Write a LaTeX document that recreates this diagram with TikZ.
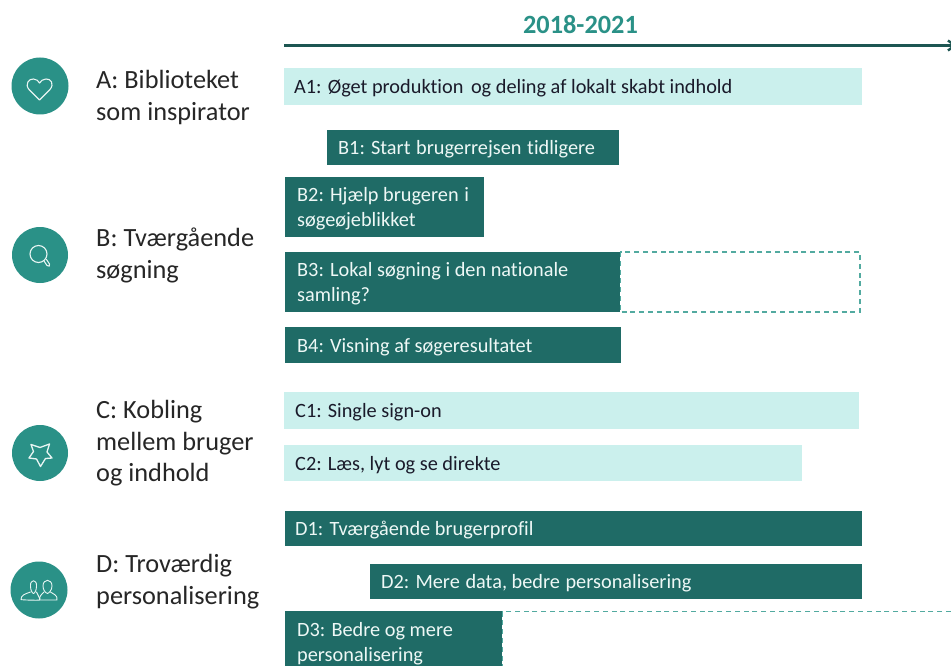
\documentclass[tikz,border=0pt]{standalone}
\usepackage{fontspec}
\setmainfont[Ligatures=NoCommon]{Carlito}
\usetikzlibrary{arrows.meta}
\definecolor{darkbar}{HTML}{1F6B66}
\definecolor{lightbar}{HTML}{CBF0ED}
\definecolor{teal}{HTML}{2A9187}
\definecolor{axisc}{HTML}{1D5652}
\definecolor{dashc}{HTML}{52AAA0}
\definecolor{inkc}{HTML}{1A1A2A}
\definecolor{paleink}{HTML}{EEF8F6}
\definecolor{iconc}{HTML}{E8F5F3}
\tikzset{
  x=1pt,y=-1pt,
  barbase/.style={anchor=north west,inner xsep=0pt,inner ysep=0pt,outer sep=0pt},
  darkstyle/.style={barbase,fill=darkbar},
  lightstyle/.style={barbase,fill=lightbar},
  dashbox/.style={draw=dashc,line width=1.2pt,dash pattern=on 5pt off 3.8pt},
  bartext/.style={anchor=west,inner sep=0pt,align=left,font=\fontsize{20.3}{25}\selectfont},
  rowlabel/.style={anchor=north west,align=left,inner sep=0pt,text=black!85,font=\fontsize{26.3}{31.6}\selectfont},
  disc/.style={circle,fill=teal,draw=none,inner sep=0pt},
  iconline/.style={draw=iconc,line width=1.1pt,line join=round,line cap=round},
}
\newcommand{\barbox}[9]{% name,style,textcolour,x1,y1,x2,y2,indent,text
  \path (#4,#5) node[#2,minimum width=#6pt-#4pt,minimum height=#7pt-#5pt] (#1) {};
  \node[bartext,text=#3] (#1t) at ([xshift=#8pt,yshift=-1.7pt]#1.west) {#9};
}
\newcommand{\wsp}{\ \hspace{1pt}}
\begin{document}
\begin{tikzpicture}
\clip (0,0) rectangle (951,666);
\fill[white] (0,0) rectangle (951,666);

% axis
\node[text=teal,font=\fontsize{26.3}{30}\selectfont\bfseries,inner sep=0pt] (title) at (580.5,25) {2018-2021};
\coordinate (axisS) at (284,45.5);
\coordinate (axisE) at (957,45.5);
\draw[axisc,line width=2.4pt,-{Straight Barb[length=7pt,width=10pt]}] (axisS) -- (axisE);

% dashed extensions
\draw[dashbox] (620,252) rectangle (860,312);
\draw[dashbox] (502,611.5) rectangle (990,700);

% bars
\barbox{a1}{lightstyle}{inkc}{284}{68}{862}{105}{10}{A1: Øget produktion\ \hspace{3pt}og deling af lokalt skabt indhold}
\barbox{b1}{darkstyle}{paleink}{327}{130}{619}{165}{11}{B1: Start\wsp brugerrejsen\wsp tidligere}
\barbox{b2}{darkstyle}{paleink}{285}{177}{484}{237}{12}{B2: Hjælp brugeren\wsp i\\søgeøjeblikket}
\barbox{b3}{darkstyle}{paleink}{285}{252}{620}{312}{12}{B3: Lokal søgning i den nationale\\samling?}
\barbox{b4}{darkstyle}{paleink}{285}{327}{621}{363}{12}{B4: Visning af søgeresultatet}
\barbox{c1}{lightstyle}{inkc}{284}{392}{859}{429}{11}{C1: Single sign-on}
\barbox{c2}{lightstyle}{inkc}{284}{445}{802}{481}{11}{C2: Læs, lyt og se direkte}
\barbox{d1}{darkstyle}{paleink}{285}{511}{862}{546}{10}{D1: Tværgående\ brugerprofil}
\barbox{d2}{darkstyle}{paleink}{370}{564}{862}{599}{11}{D2: Mere\wsp data, bedre\wsp personalisering}
\barbox{d3}{darkstyle}{paleink}{285}{611}{502}{672}{12}{D3: Bedre og mere\\personalisering}

% row labels
\node[rowlabel] (la) at (96,70.5) {A: Biblioteket\\som inspirator};
\node[rowlabel] (lb) at (96,228) {B: Tværgående\\søgning};
\node[rowlabel] (lc) at (96,400) {C: Kobling\\mellem bruger\\og indhold};
\node[rowlabel] (ld) at (96,554) {D: Troværdig\\personalisering};

% discs
\node[disc,minimum size=57pt] (da) at (40,86) {};
\node[disc,minimum size=56pt] (db) at (40,255) {};
\node[disc,minimum size=56pt] (dc) at (40,453) {};
\node[disc,minimum size=57pt] (dd) at (39,590) {};

% heart
\draw[iconline] (39.5,100) -- (29,89.5) .. controls (24.5,84) and (29,78.5) .. (33.5,79)
  .. controls (36.5,79) and (38.5,81) .. (39.5,83) .. controls (41,81) and (43,79) .. (46,79)
  .. controls (51,78.5) and (54.5,84) .. (50,89.5) -- cycle;
% magnifier
\draw[iconline] (38.5,254) circle (8.5);
\draw[iconline] (44,261) -- (47,265.5) .. controls (48.5,267.5) and (50.5,265.5) .. (49.5,264) -- (46.5,259.5);
% star
\draw[iconline,line width=1.3pt] (31,444.5) -- (40,447.5) -- (49.5,444) -- (47,452) -- (52,458) -- (45.5,458.5) -- (40.5,466.5) -- (36.5,459) -- (29,458) -- (33.5,451.5) -- cycle;
% persons
\draw[iconline,line width=.9pt] (30.5,586) .. controls (30,579) and (37,579) .. (36.5,586) .. controls (36.5,590) and (35,593) .. (33.5,593.5) .. controls (32,593) and (30.5,590) .. (30.5,586) -- cycle;
\draw[iconline,line width=.9pt] (30.5,592) .. controls (25,594) and (21,595) .. (21,599.5) .. controls (21,600) and (39,600.5) .. (39.5,600);
\draw[iconline,line width=.9pt] (36.5,592) .. controls (37.5,595) and (39,596) .. (40,599);
\draw[iconline,line width=.9pt] (43,586) .. controls (43,578.5) and (52,578.5) .. (52,586) .. controls (52,590) and (49,593) .. (47.5,593.5) .. controls (45.5,593) and (43,590) .. (43,586) -- cycle;
\draw[iconline,line width=.9pt] (44,592) .. controls (41,595) and (39.5,596) .. (39.5,600) -- (57,600) .. controls (58,595) and (53,594) .. (50.5,592);
\end{tikzpicture}
\end{document}
